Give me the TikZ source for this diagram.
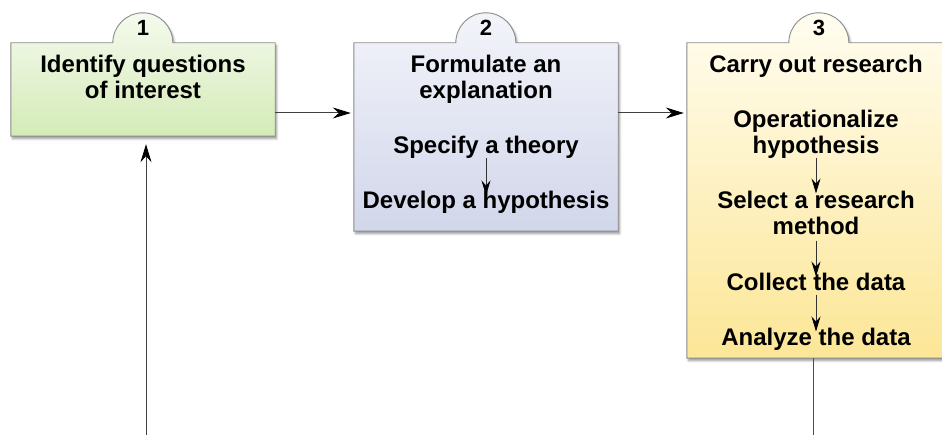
\documentclass[tikz,border=0pt]{standalone}
\usepackage{fontspec}
\setmainfont{Liberation Sans}
\usetikzlibrary{arrows.meta,shadows.blur}

\definecolor{greentop}{RGB}{245,250,238}
\definecolor{greenbot}{RGB}{212,235,183}
\definecolor{bluetop}{RGB}{243,244,250}
\definecolor{bluebot}{RGB}{209,214,234}
\definecolor{yellowtop}{RGB}{255,253,240}
\definecolor{yellowbot}{RGB}{252,230,150}

\begin{document}
\begin{tikzpicture}
[
	x=1pt, y=-1pt,
	card/.style={rectangle,inner sep=0pt,minimum width=264pt},
	outline/.style={draw=black!45,line width=0.9pt,blur shadow={shadow xshift=1.5pt,shadow yshift=-2.5pt,shadow opacity=40,shadow blur steps=6}},
	words/.style={inner sep=0pt,align=center,anchor=north,font=\fontsize{24}{26}\selectfont\bfseries},
	tabnum/.style={inner sep=0pt,anchor=base,font=\fontsize{22}{22}\selectfont\bfseries},
	flow/.style={draw=black!75,line width=1pt,-{Stealth[length=18pt,width=11pt,inset=6pt,black]}},
	substep/.style={draw=black!80,line width=0.8pt,-{Stealth[length=15pt,width=9pt,inset=5pt,black]}},
	trail/.style={draw=black!70,line width=1pt}
]

	\useasboundingbox (0,0) rectangle (942,435);

	\node[card,minimum height=93pt] at (143,89.5) (interest) {};
	\node[card,minimum height=188pt] at (486,137) (explain) {};
	\node[card,minimum height=315pt] at (819,200.5) (research) {};

	\path[outline,top color=greentop,bottom color=greenbot] (interest.south west) -- (interest.north west) -- ++(102,0) arc[start angle=180,end angle=360,radius=30] -- (interest.north east) -- (interest.south east) -- cycle;
	\path[outline,top color=bluetop,bottom color=bluebot] (explain.south west) -- (explain.north west) -- ++(102,0) arc[start angle=180,end angle=360,radius=30] -- (explain.north east) -- (explain.south east) -- cycle;
	\path[outline,top color=yellowtop,bottom color=yellowbot] (research.south west) -- (research.north west) -- ++(102,0) arc[start angle=180,end angle=360,radius=30] -- (research.north east) -- (research.south east) -- cycle;

	\node[tabnum] at (143,36) (n1) {1};
	\node[tabnum] at (486,36) (n2) {2};
	\node[tabnum] at (819,36) (n3) {3};

	\node[words] at (143,54.5) (questions) {Identify questions\\of interest};

	\node[words] at (486,54.5) (formulate) {Formulate an\\explanation};
	\node[words] at (486,135.5) (theory) {Specify a theory};
	\node[words] at (486,190.5) (hypo) {Develop a hypothesis};
	\draw[substep,shorten >=-5pt] (theory.south) -- (hypo.north);

	\node[words] at (816,54.5) (carry) {Carry out research};
	\node[words] at (816,109.5) (oper) {Operationalize\\hypothesis};
	\node[words] at (816,190.5) (method) {Select a research\\method};
	\node[words] at (816,272.5) (collect) {Collect the data};
	\node[words] at (816,327.5) (analyze) {Analyze the data};
	\draw[substep,shorten >=-3pt] (oper.south) -- (method.north);
	\draw[substep,shorten <=6pt,shorten >=-4pt] (method.south) -- (collect.north);
	\draw[substep,shorten <=4pt,shorten >=-4pt] (collect.south) -- (analyze.north);

	\draw[flow,shorten >=3pt] (interest.east |- 0,113) -- (explain.west |- 0,113);
	\draw[flow,shorten >=3pt] (explain.east |- 0,113) -- (research.west |- 0,113);

	\coordinate (loopin) at (146,435);
	\coordinate (loopout) at (813,435);
	\draw[flow,shorten >=8pt] (loopin) -- (loopin |- interest.south);
	\draw[trail] (loopout |- research.south) -- (loopout);

\end{tikzpicture}
\end{document}
